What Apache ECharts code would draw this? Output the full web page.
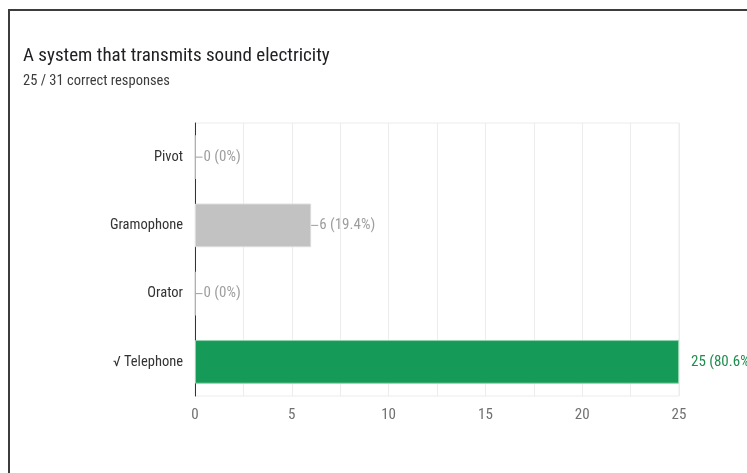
<!DOCTYPE html>
<html>
<head>
<meta charset="utf-8">
<script src="https://cdn.jsdelivr.net/npm/echarts@6/dist/echarts.min.js"></script>
<style>
html,body{margin:0;padding:0;background:#fff;}
#chart{width:747px;height:473px;}
</style>
</head>
<body>
<div id="chart"></div>
<script>
const titleText = 'A system that transmits sound electricity';
const subtitleText = '25 / 31 correct responses';
const categories = ['Pivot', 'Gramophone', 'Orator', '\u221A Telephone'];
const counts = [0, 6, 0, 25];
const percents = ['0%', '19.4%', '0%', '80.6%'];
const correct = [false, false, false, true];
const xTicks = [0, 5, 10, 15, 20, 25];

const FONT = '"Liberation Sans Narrow", "Roboto Condensed", "DejaVu Sans Condensed", Roboto';
const chart = echarts.init(document.getElementById('chart'), null, {renderer: 'canvas'});

const data = counts.map((v, i) => ({
  value: v,
  itemStyle: {
    color: correct[i] ? '#159b57' : '#c2c2c2',
    borderColor: correct[i] ? '#8fd3ae' : '#dcdcdc',
    borderWidth: 1
  },
  label: correct[i] ? {
    formatter: v + ' (' + percents[i] + ')',
    color: '#1e8e4e',
    distance: 12
  } : {
    formatter: '{l|}{v|' + v + ' (' + percents[i] + ')}',
    distance: 0
  }
}));

chart.setOption({
  animation: false,
  title: {
    text: titleText,
    subtext: subtitleText,
    left: 18,
    top: 42,
    itemGap: 8,
    textStyle: {fontFamily: FONT, fontSize: 19, fontWeight: 'normal', color: '#202124'},
    subtextStyle: {fontFamily: FONT, fontSize: 14.5, color: '#3c3c3c'}
  },
  grid: {
    left: 195, right: 68, top: 123, bottom: 77,
    show: true, borderColor: '#ececec', borderWidth: 1
  },
  xAxis: {
    type: 'value',
    min: 0, max: 25, interval: 2.5,
    axisLine: {show: false},
    axisTick: {show: false},
    splitLine: {lineStyle: {color: '#ececec'}},
    axisLabel: {
      fontFamily: FONT, fontSize: 15, color: '#707070', margin: 12,
      formatter: v => (xTicks.indexOf(v) >= 0 ? String(v) : '')
    }
  },
  yAxis: {
    type: 'category',
    data: categories,
    inverse: true,
    axisLine: {show: true, lineStyle: {color: '#333', width: 1}},
    axisTick: {show: false},
    axisLabel: {fontFamily: FONT, fontSize: 14.5, color: '#333', margin: 12}
  },
  series: [{
    type: 'bar',
    data: data,
    barWidth: '64%',
    label: {
      show: true,
      position: 'right',
      fontFamily: FONT,
      fontSize: 15,
      color: '#9e9e9e',
      rich: {
        l: {width: 7, height: 1, backgroundColor: '#9e9e9e'},
        v: {fontFamily: FONT, fontSize: 15, color: '#9e9e9e', padding: [0, 0, 0, 1]}
      }
    }
  }],
  graphic: [
    {type: 'rect', shape: {x: 8, y: 9, width: 739, height: 2}, style: {fill: '#3c3c3c'}},
    {type: 'rect', shape: {x: 8, y: 9, width: 2, height: 464}, style: {fill: '#3c3c3c'}}
  ]
});
</script>
</body>
</html>
